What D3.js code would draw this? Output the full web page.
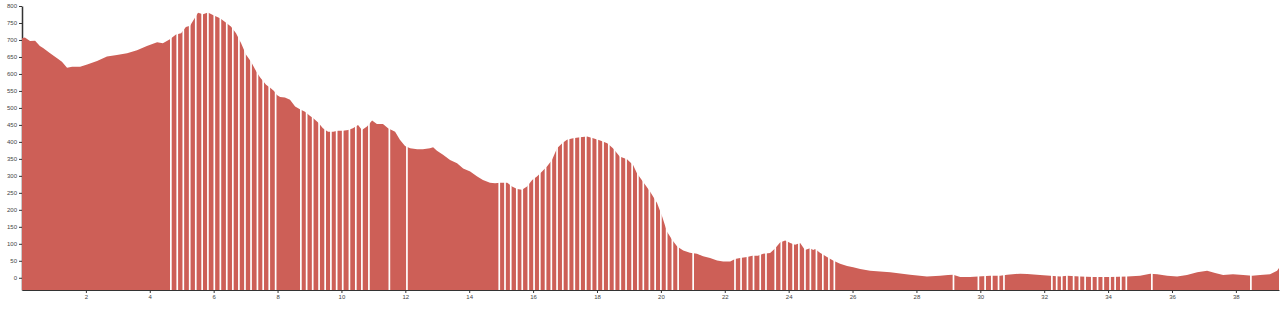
<!DOCTYPE html>
<html>
<head>
<meta charset="utf-8">
<script src="https://cdn.jsdelivr.net/npm/d3@7"></script>
<style>
  body { margin: 0; background: #fff; }
  .axis text { font-family: 'Liberation Sans', Arial, sans-serif; font-size: 6px; fill: #444; }
  .axis path, .axis line { stroke: #333; }
</style>
</head>
<body>
<div id="chart"></div>
<script>
'use strict';

// distance (km) and elevation (m)
const profileKm = [0.00, 0.09, 0.25, 0.41, 0.56, 0.66, 0.88, 1.10, 1.25, 1.41, 1.57, 1.82, 2.04, 2.35, 2.66, 2.97,
  3.29, 3.60, 3.91, 4.23, 4.41, 4.63, 4.82, 4.98, 5.13, 5.26, 5.39, 5.51, 5.67, 5.82, 6.01, 6.20, 6.39, 6.54,
  6.70, 6.86, 7.01, 7.17, 7.33, 7.45, 7.64, 7.76, 7.89, 7.98, 8.08, 8.23, 8.39, 8.55, 8.70, 8.86, 9.02, 9.11,
  9.27, 9.42, 9.58, 9.74, 9.89, 10.05, 10.21, 10.36, 10.52, 10.64, 10.80, 10.96, 11.11, 11.30, 11.46, 11.68,
  11.83, 11.99, 12.15, 12.37, 12.55, 12.77, 12.87, 12.99, 13.18, 13.40, 13.62, 13.81, 14.03, 14.25, 14.43,
  14.65, 14.81, 14.97, 15.19, 15.34, 15.50, 15.65, 15.81, 15.97, 16.12, 16.28, 16.44, 16.59, 16.75, 16.91,
  17.06, 17.25, 17.47, 17.69, 17.88, 18.10, 18.32, 18.50, 18.71, 18.94, 19.13, 19.25, 19.44, 19.66, 19.88,
  20.04, 20.19, 20.35, 20.51, 20.70, 20.91, 21.13, 21.32, 21.54, 21.76, 21.95, 22.17, 22.32, 22.48, 22.70,
  22.86, 23.04, 23.20, 23.42, 23.58, 23.73, 23.89, 24.05, 24.20, 24.36, 24.51, 24.67, 24.77, 24.83, 24.98,
  25.20, 25.39, 25.61, 25.83, 26.02, 26.24, 26.55, 27.18, 27.80, 28.33, 28.74, 28.99, 29.15, 29.37, 29.68,
  29.93, 30.31, 30.62, 30.84, 31.25, 31.47, 31.87, 32.19, 32.50, 32.72, 33.12, 33.53, 34.06, 34.60, 35.00,
  35.32, 35.54, 35.85, 36.16, 36.47, 36.79, 37.10, 37.35, 37.60, 37.91, 38.23, 38.51, 38.76, 39.07, 39.29, 39.35];

const profileElev = [705, 707, 697, 698, 682, 676, 661, 646, 636, 618, 621, 621, 628, 638, 651, 656,
  661, 670, 682, 693, 690, 702, 716, 720, 738, 742, 762, 780, 776, 781, 772, 764, 751, 740,
  720, 690, 657, 636, 608, 590, 568, 560, 550, 538, 532, 531, 524, 504, 496, 489, 476, 470,
  457, 440, 430, 430, 433, 433, 435, 440, 450, 435, 445, 463, 453, 453, 440, 430,
  406, 388, 381, 378, 378, 381, 384, 374, 362, 347, 337, 322, 313, 298, 288,
  280, 278, 280, 280, 269, 261, 259, 269, 288, 298, 313, 328, 347, 381, 396,
  406, 411, 414, 416, 411, 404, 396, 381, 357, 349, 332, 308, 283, 254, 220,
  180, 136, 112, 92, 80, 74, 71, 63, 58, 51, 48, 48, 55, 58, 61,
  65, 65, 71, 73, 87, 104, 110, 102, 97, 102, 82, 87, 82, 85, 74,
  61, 51, 41, 35, 31, 26, 21, 16, 9, 4, 6, 8, 9, 2, 2,
  4, 6, 6, 9, 12, 11, 8, 6, 4, 6, 4, 2, 2, 4, 6,
  12, 10, 6, 4, 8, 16, 21, 14, 8, 10, 8, 6, 8, 10, 21, 29];

// distances (km) where the profile is split by a white gap
const gapKm = [4.66, 4.86, 5.05, 5.25, 5.44, 5.64, 5.82, 6.02, 6.21, 6.41, 6.60, 6.79, 6.98, 7.17, 7.37, 7.55,
  7.74, 7.94, 8.73, 8.91, 9.10, 9.30, 9.49, 9.67, 9.85, 10.04, 10.25, 10.45, 10.64, 10.86, 11.50, 12.05,
  14.94, 15.12, 15.30, 15.49, 15.66, 15.85, 16.03, 16.21, 16.39, 16.57, 16.75, 16.93, 17.11, 17.29, 17.47,
  17.65, 17.83, 18.01, 18.19, 18.37, 18.55, 18.73, 18.91, 19.10, 19.28, 19.45, 19.64, 19.82, 20.00, 20.18,
  20.36, 20.54, 21.01, 22.32, 22.51, 22.71, 22.90, 23.11, 23.29, 23.58, 23.77, 23.95, 24.14, 24.32, 24.51,
  24.68, 24.87, 25.07, 25.26, 25.43, 29.16, 29.94, 30.15, 30.36, 30.57, 30.74, 32.24, 32.39, 32.55, 32.71,
  32.92, 33.10, 33.28, 33.49, 33.67, 33.85, 34.06, 34.22, 34.40, 34.57, 35.37, 38.47];

const xTicks = [2, 4, 6, 8, 10, 12, 14, 16, 18, 20, 22, 24, 26, 28, 30, 32, 34, 36, 38];
const yTicks = [0, 50, 100, 150, 200, 250, 300, 350, 400, 450, 500, 550, 600, 650, 700, 750, 800];

const margin = { top: 6, right: 5, bottom: 19, left: 22 };
const width = 1284 - margin.left - margin.right;
const height = 309 - margin.top - margin.bottom;

const data = profileKm.map((km, i) => ({ km: km, elev: profileElev[i] }));

const svg = d3.select('#chart')
    .append('svg')
    .attr('width', width + margin.left + margin.right)
    .attr('height', height + margin.top + margin.bottom)
  .append('g')
    .attr('transform', `translate(${margin.left}, ${margin.top})`);

const x = d3.scaleLinear().domain([0, 39.35]).range([0, width]);
const y = d3.scaleLinear().domain([-36, 800]).range([height, 0]);

const xAxis = d3.axisBottom(x).tickValues(xTicks).tickSize(3).tickSizeOuter(0).tickPadding(2);
const yAxis = d3.axisLeft(y).tickValues(yTicks).tickSize(3).tickSizeOuter(0).tickPadding(2);

svg.append('g')
    .attr('class', 'axis y-axis')
    .call(yAxis);

svg.select('.y-axis .domain').attr('stroke-width', 1.5);

const area = d3.area()
    .x(d => x(d.km))
    .y0(height)
    .y1(d => y(d.elev));

svg.append('path')
    .datum(data)
    .attr('fill', '#cd5f57')
    .attr('d', area);

// white splits between segments
svg.selectAll('.gap')
    .data(gapKm)
  .enter().append('line')
    .attr('class', 'gap')
    .attr('x1', d => x(d))
    .attr('x2', d => x(d))
    .attr('y1', y(800))
    .attr('y2', height)
    .attr('stroke', '#fff')
    .attr('stroke-width', 1.7);

svg.append('g')
    .attr('class', 'axis x-axis')
    .attr('transform', `translate(0, ${height})`)
    .call(xAxis);
</script>
</body>
</html>
